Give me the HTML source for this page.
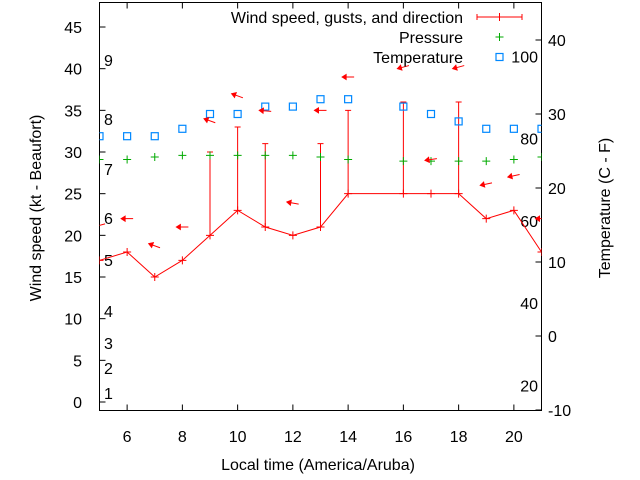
<!DOCTYPE html>
<html><head><meta charset="utf-8"><style>
body{margin:0;background:#fff}
svg{display:block;font-family:"Liberation Sans",sans-serif}
</style></head><body>
<svg id="c" width="640" height="480" viewBox="0 0 640 480"></svg>
<script>
const hours=[5,6,7,8,9,10,11,12,13,14,16,17,18,19,20,21];
const windKt=[17,18,15,17,20,23,21,20,21,25,25,25,25,22,23,18];
const gustHours=[9,10,11,13,14,16,18];
const gustKt=[30,33,31,31,35,36,36];
const pressure=[29.1,29.1,29.4,29.6,29.6,29.6,29.6,29.6,29.4,29.1,28.9,28.9,28.9,28.9,29.1,29.4];
const tempC=[27,27,27,28,30,30,31,31,32,32,31,30,29,28,28,28];
const dirLevel=[21,22,19,21,34,37,35,24,35,39,40,29,40,26,27,22];
const dirTilt=[-15,0,20,0,20,20,5,10,0,0,-15,-8,-15,-12,-12,0];
const xTicks=[6,8,10,12,14,16,18,20];
const yTicks=[0,5,10,15,20,25,30,35,40,45];
const y2Ticks=[-10,0,10,20,30,40];
const fLabels=[20,40,60,80,100];
const bft=[[1,393],[2,368],[3,343],[4,311],[5,260],[6,218],[7,169],[8,119],[9,60]];

const L=99.5,R=541.5,T=2.5,B=410.5;
const X=h=>L+(h-5)/(21-5)*(R-L);
const Y=v=>402-v*8.333;
const Y2=c=>336-c*7.4;
const FS=16;
const svg=document.getElementById('c');
const NS='http://www.w3.org/2000/svg';
function mk(tag,at,txt){const e=document.createElementNS(NS,tag);for(const k in at)e.setAttribute(k,at[k]);if(txt!==undefined)e.textContent=txt;svg.appendChild(e);return e;}

let e;
e=mk('rect',{x:L,y:T,width:R-L,height:B-T,fill:'none',stroke:'#000','stroke-width':1});


xTicks.forEach(h=>{
 e=mk('path',{d:`M${X(h)} ${B}v-6M${X(h)} ${T}v6`,stroke:'#000'});
 
 
 e=mk('text',{x:X(h),y:442,'font-size':FS,'text-anchor':'middle'},h);
 
 
});
yTicks.forEach(v=>{
 e=mk('path',{d:`M${L} ${Y(v)}h6`,stroke:'#000'});
 
 
 e=mk('text',{x:82,y:Y(v)+6,'font-size':FS,'text-anchor':'end'},v);
 
 
});
y2Ticks.forEach(v=>{
 e=mk('path',{d:`M${R} ${Y2(v)}h-6`,stroke:'#000'});
 
 
 e=mk('text',{x:548,y:Y2(v)+6,'font-size':FS},v);
 
 
});
fLabels.forEach(f=>{
 e=mk('text',{x:538,y:Y2((f-32)*5/9)+6,'font-size':FS,'text-anchor':'end'},f);
 
 
});
bft.forEach(([n,y])=>{
 e=mk('text',{x:104,y:y+6,'font-size':FS},n);
 
 
});
e=mk('text',{x:318,y:470,'font-size':FS,'text-anchor':'middle'},'Local time (America/Aruba)');


e=mk('text',{x:0,y:0,'font-size':FS,'text-anchor':'middle',transform:'translate(41,208) rotate(-90)'},'Wind speed (kt - Beaufort)');


e=mk('text',{x:0,y:0,'font-size':FS,'text-anchor':'middle',transform:'translate(610,208) rotate(-90)'},'Temperature (C - F)');



const g=document.createElementNS(NS,'g');g.setAttribute('clip-path','url(#cp)');
e=mk('clipPath',{id:'cp'});const cr=document.createElementNS(NS,'rect');
cr.setAttribute('x',L);cr.setAttribute('y',T);cr.setAttribute('width',R-L);cr.setAttribute('height',B-T);e.appendChild(cr);
svg.appendChild(g);
function mg(tag,at){const el=document.createElementNS(NS,tag);for(const k in at)el.setAttribute(k,at[k]);g.appendChild(el);return el;}
function plus(x,y){return `M${x-4} ${y}h8M${x} ${y-4}v8`;}

e=mg('polyline',{points:hours.map((h,i)=>X(h)+','+Y(windKt[i])).join(' '),fill:'none',stroke:'#f00','stroke-width':1});


hours.forEach((h,i)=>{
 e=mg('path',{d:plus(X(h),Y(windKt[i])),stroke:'#f00'});
 
 
});
gustHours.forEach((h,i)=>{
 const w=windKt[hours.indexOf(h)];
 e=mg('path',{d:`M${X(h)} ${Y(w)}V${Y(gustKt[i])}M${X(h)-3} ${Y(gustKt[i])}h6`,stroke:'#f00'});
 
 
});
pressure.forEach((p,i)=>{
 e=mg('path',{d:plus(X(hours[i]),Y(p)),stroke:'#0a0'});
 
 
});
tempC.forEach((t,i)=>{
 e=mg('rect',{x:X(hours[i])-3.5,y:Y2(t)-3.5,width:7,height:7,fill:'none',stroke:'#08f','stroke-width':1.2});
 
 
});
dirLevel.forEach((d,i)=>{
 const x=X(hours[i])-6,y=Y(d);
 e=mg('g',{transform:`translate(${x},${y}) rotate(${dirTilt[i]})`});
 
 
 const p=document.createElementNS(NS,'path');
 p.setAttribute('d','M0 0h12M0 0l4 -2.5v5z');p.setAttribute('stroke','#f00');p.setAttribute('fill','#f00');
 e.appendChild(p);
});

const leg=[['Wind speed, gusts, and direction',17],['Pressure',37],['Temperature',57]];
leg.forEach(([t,y])=>{
 e=mk('text',{x:463,y:y+6,'font-size':FS,'text-anchor':'end'},t);
 
 
});
e=mk('path',{d:'M477 17h45M477 14v6M522 14v6M499.5 13v8',stroke:'#f00'});


e=mk('path',{d:plus(499.5,37),stroke:'#0a0'});


e=mk('rect',{x:496,y:53.5,width:7,height:7,fill:'none',stroke:'#08f','stroke-width':1.2});


</script>
</body></html>
